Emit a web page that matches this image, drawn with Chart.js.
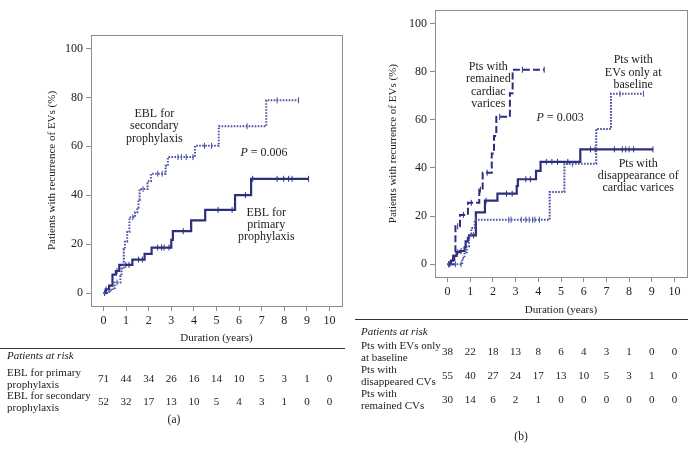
<!DOCTYPE html>
<html>
<head>
<meta charset="utf-8">
<script src="https://cdn.jsdelivr.net/npm/chart.js@4.4.0/dist/chart.umd.min.js"></script>
<style>
  body { margin: 0; background: #fff; width: 695px; height: 459px; position: relative; overflow: hidden; }
  #wrapA { position: absolute; left: 0; top: 0; width: 347px; height: 459px; }
  #wrapB { position: absolute; left: 347px; top: 0; width: 348px; height: 459px; }
</style>
</head>
<body>
<div id="wrapA"><canvas id="chartA"></canvas></div>
<div id="wrapB"><canvas id="chartB"></canvas></div>
<script>
// tick years shared by both panels and their risk tables
const years = [0, 1, 2, 3, 4, 5, 6, 7, 8, 9, 10];

// Panel (a): EBL for primary prophylaxis (solid)
const primaryTimes = [0, 0.1, 0.25, 0.4, 0.55, 0.7, 1.28, 1.82, 2.13, 3.0, 3.07, 3.88, 4.5, 5.82, 6.53, 9.07];
const primaryPct   = [0, 1.5, 3, 7.5, 9, 11.5, 13.7, 16, 18.6, 21.7, 25.3, 29.7, 34, 40, 46.7, 46.7];
const primaryCensor = [0.05, 0.12, 0.6, 0.99, 1.13, 1.55, 1.72, 2.4, 2.57, 2.68, 2.9, 3.53, 5.07, 5.69, 6.28, 6.6, 7.68, 7.97, 8.19, 8.34, 9.07];

// Panel (a): EBL for secondary prophylaxis (dotted)
const secondaryTimes = [0, 0.25, 0.4, 0.5, 0.75, 0.8, 0.9, 0.95, 1.05, 1.15, 1.4, 1.5, 1.55, 1.6, 1.95, 2.1, 2.75, 2.85, 4.05, 5.1, 7.2, 8.63];
const secondaryPct   = [0, 1, 2, 4.3, 7, 10, 18, 21, 25, 31, 33, 35, 38, 42.5, 45.7, 48.8, 52, 55.6, 60.2, 68.2, 78.8, 78.8];
const secondaryCensor = [0.05, 0.6, 1.3, 1.75, 2.4, 2.6, 3.3, 3.45, 3.66, 3.96, 4.47, 4.78, 6.35, 7.68, 8.63];

// Panel (b): remained cardiac varices (dashed)
const remainedTimes = [0, 0.3, 0.35, 0.55, 0.9, 1.4, 1.55, 1.95, 2.05, 2.15, 2.75, 2.87, 4.26];
const remainedPct   = [0, 3.5, 15.8, 20.5, 25.5, 31, 38, 46, 53.3, 61.2, 71, 80.8, 80.8];
const remainedCensor = [0.05, 0.45, 0.7, 1.05, 1.45, 1.75, 2.3, 3.3, 4.26];

// Panel (b): disappearance of cardiac varices (solid)
const disappearedTimes = [0, 0.15, 0.25, 0.4, 0.55, 0.75, 0.8, 0.9, 0.95, 1.25, 1.65, 2.2, 3.05, 3.1, 3.9, 4.1, 5.85, 9.05];
const disappearedPct   = [0, 1.5, 3.5, 5, 5.5, 7, 9.5, 11, 12, 21.5, 26.4, 29.3, 32.5, 35.3, 38.8, 42.5, 47.7, 47.7];
const disappearedCensor = [0.1, 0.45, 0.6, 1.15, 1.7, 2.6, 2.85, 3.45, 3.65, 4.35, 4.6, 4.85, 5.3, 6.3, 6.5, 7.35, 7.7, 7.85, 8.0, 8.2, 9.05];

// Panel (b): EVs only at baseline (dotted)
const baselineTimes = [0, 0.65, 0.75, 0.85, 0.95, 1.05, 1.2, 4.5, 5.15, 6.55, 7.2, 8.63];
const baselinePct   = [0, 2.5, 5, 7.5, 12, 15, 18.5, 30, 41.7, 56.2, 70.8, 70.8];
const baselineCensor = [0.05, 0.35, 0.6, 1.25, 2.7, 2.8, 3.25, 3.45, 3.6, 3.75, 3.85, 4.05, 5.5, 7.6, 8.63];

// patients at risk
const riskPrimary     = [71, 44, 34, 26, 16, 14, 10, 5, 3, 1, 0];
const riskSecondary   = [52, 32, 17, 13, 10, 5, 4, 3, 1, 0, 0];
const riskBaseline    = [38, 22, 18, 13, 8, 6, 4, 3, 1, 0, 0];
const riskDisappeared = [55, 40, 27, 24, 17, 13, 10, 5, 3, 1, 0];
const riskRemained    = [30, 14, 6, 2, 1, 0, 0, 0, 0, 0, 0];

const SERIF = '"Liberation Serif", "Times New Roman", serif';
const NAVY = '#2d2f7d';
const BLUE = '#4a50a3';
const FRAME = '#8c8c8c';
const TABLE_FONT = '11px ' + SERIF;

Chart.defaults.font.family = SERIF;
Chart.defaults.font.size = 12;
Chart.defaults.color = '#222';

function stepAt(times, pct, t) {
  let v = pct[0];
  for (let i = 0; i < times.length; i++) if (times[i] <= t) v = pct[i];
  return v;
}

function curve(times, pct, color, dash, width) {
  return {
    data: times.map((t, i) => ({ x: t, y: pct[i] })),
    borderColor: color, borderWidth: width, borderDash: dash,
    stepped: true, pointRadius: 0, fill: false
  };
}

function censors(times, pct, marks, color) {
  return {
    data: marks.map(t => ({ x: t, y: stepAt(times, pct, t) })),
    showLine: false, pointStyle: 'line', rotation: 90, pointRadius: 3,
    borderColor: color, borderWidth: 1
  };
}

// frame, in-plot notes and risk table
const panelExtras = {
  id: 'panelExtras',
  afterDraw(chart, args, o) {
    const { ctx, chartArea: a, scales: { x, y } } = chart;
    ctx.save();
    ctx.strokeStyle = FRAME; ctx.lineWidth = 1;
    ctx.strokeRect(Math.round(a.left) + 0.5, Math.round(a.top) + 0.5, Math.round(a.right - a.left), Math.round(a.bottom - a.top));

    ctx.fillStyle = '#222'; ctx.textBaseline = 'middle'; ctx.textAlign = 'center';
    ctx.font = '12px ' + SERIF;
    o.notes.forEach(n => {
      const px = x.getPixelForValue(n.x), py = y.getPixelForValue(n.y);
      n.lines.forEach((l, i) => ctx.fillText(l, px, py + i * 12.3));
    });

    // P value, italic P
    const px = x.getPixelForValue(o.p.x), py = y.getPixelForValue(o.p.y);
    ctx.font = 'italic 12px ' + SERIF;
    const wP = ctx.measureText('P').width;
    ctx.font = '12px ' + SERIF;
    const rest = ' = ' + o.p.value;
    const wR = ctx.measureText(rest).width;
    ctx.textAlign = 'left';
    ctx.font = 'italic 12px ' + SERIF;
    ctx.fillText('P', px - (wP + wR) / 2, py);
    ctx.font = '12px ' + SERIF;
    ctx.fillText(rest, px - (wP + wR) / 2 + wP, py);

    // risk table
    ctx.strokeStyle = '#333';
    ctx.beginPath();
    ctx.moveTo(o.rule[0], o.rule[2] + 0.5); ctx.lineTo(o.rule[1], o.rule[2] + 0.5);
    ctx.stroke();
    ctx.font = 'italic ' + TABLE_FONT;
    ctx.fillText('Patients at risk', o.labelX, o.headY);
    o.rows.forEach(r => {
      ctx.font = TABLE_FONT; ctx.textAlign = 'left';
      r.label.forEach((l, i) => ctx.fillText(l, o.labelX, r.y - 6 + i * 12));
      ctx.textAlign = 'center';
      r.counts.forEach((c, i) => ctx.fillText(String(c), x.getPixelForValue(years[i]), r.y));
    });
    ctx.font = '11.5px ' + SERIF;
    ctx.fillText(o.tag[0], o.tag[1], o.tag[2]);
    ctx.restore();
  }
};

function scalesFor(yWidth, yTitlePad, xHeight, xTitlePad) {
  return {
    x: {
      type: 'linear', min: -0.55, max: 10.55,
      ticks: { stepSize: 1, includeBounds: false, padding: 3, color: '#222' },
      grid: { drawOnChartArea: false, drawTicks: true, tickLength: 5, color: FRAME },
      border: { color: FRAME },
      title: { display: true, text: 'Duration (years)', color: '#222', font: { size: 11 }, padding: { top: 0, bottom: xTitlePad } },
      afterFit: s => { s.height = xHeight; }
    },
    y: {
      min: -5.3, max: 105.5,
      ticks: { stepSize: 20, includeBounds: false, padding: 3, color: '#222' },
      grid: { drawOnChartArea: false, drawTicks: true, tickLength: 5, color: FRAME },
      border: { color: FRAME },
      title: { display: true, text: 'Patients with recurrence of EVs (%)', color: '#222', font: { size: 11 }, padding: { top: yTitlePad, bottom: 0 } },
      afterFit: s => { s.width = yWidth; }
    }
  };
}

const common = {
  responsive: true, maintainAspectRatio: false, animation: false, devicePixelRatio: 1,
  plugins: { legend: { display: false }, tooltip: { enabled: false } }
};

new Chart(document.getElementById('chartA'), {
  type: 'line',
  data: {
    datasets: [
      curve(secondaryTimes, secondaryPct, BLUE, [1.6, 1.4], 2),
      censors(secondaryTimes, secondaryPct, secondaryCensor, BLUE),
      curve(primaryTimes, primaryPct, NAVY, [], 2.2),
      censors(primaryTimes, primaryPct, primaryCensor, NAVY)
    ]
  },
  options: {
    ...common,
    layout: { padding: { left: 0, right: 3, top: 35, bottom: 111 } },
    scales: scalesFor(91, 45.4, 42, 3.4),
    plugins: {
      ...common.plugins,
      panelExtras: {
        notes: [
          { x: 2.25, y: 73.3, lines: ['EBL for', 'secondary', 'prophylaxis'] },
          { x: 7.2, y: 32.9, lines: ['EBL for', 'primary', 'prophylaxis'] }
        ],
        p: { x: 7.1, y: 57.2, value: '0.006' },
        rule: [0, 345, 348],
        labelX: 7, headY: 356,
        rows: [
          { label: ['EBL for primary', 'prophylaxis'], y: 379, counts: riskPrimary },
          { label: ['EBL for secondary', 'prophylaxis'], y: 402, counts: riskSecondary }
        ],
        tag: ['(a)', 174, 420]
      }
    }
  },
  plugins: [panelExtras]
});

new Chart(document.getElementById('chartB'), {
  type: 'line',
  data: {
    datasets: [
      curve(baselineTimes, baselinePct, BLUE, [1.6, 1.4], 2),
      censors(baselineTimes, baselinePct, baselineCensor, BLUE),
      curve(remainedTimes, remainedPct, NAVY, [7, 3], 2),
      censors(remainedTimes, remainedPct, remainedCensor, NAVY),
      curve(disappearedTimes, disappearedPct, NAVY, [], 2.2),
      censors(disappearedTimes, disappearedPct, disappearedCensor, NAVY)
    ]
  },
  options: {
    ...common,
    layout: { padding: { left: 0, right: 8, top: 7, bottom: 142 } },
    scales: scalesFor(88, 39.4, 40, 0.4),
    plugins: {
      ...common.plugins,
      panelExtras: {
        notes: [
          { x: 1.8, y: 82, lines: ['Pts with', 'remained', 'cardiac', 'varices'] },
          { x: 8.18, y: 84.8, lines: ['Pts with', 'EVs only at', 'baseline'] },
          { x: 8.4, y: 41.8, lines: ['Pts with', 'disappearance of', 'cardiac varices'] }
        ],
        p: { x: 4.96, y: 61, value: '0.003' },
        rule: [8, 341, 319],
        labelX: 14, headY: 332,
        rows: [
          { label: ['Pts with EVs only', 'at baseline'], y: 352, counts: riskBaseline },
          { label: ['Pts with', 'disappeared CVs'], y: 376, counts: riskDisappeared },
          { label: ['Pts with', 'remained CVs'], y: 400, counts: riskRemained }
        ],
        tag: ['(b)', 174, 437]
      }
    }
  },
  plugins: [panelExtras]
});
</script>
</body>
</html>
